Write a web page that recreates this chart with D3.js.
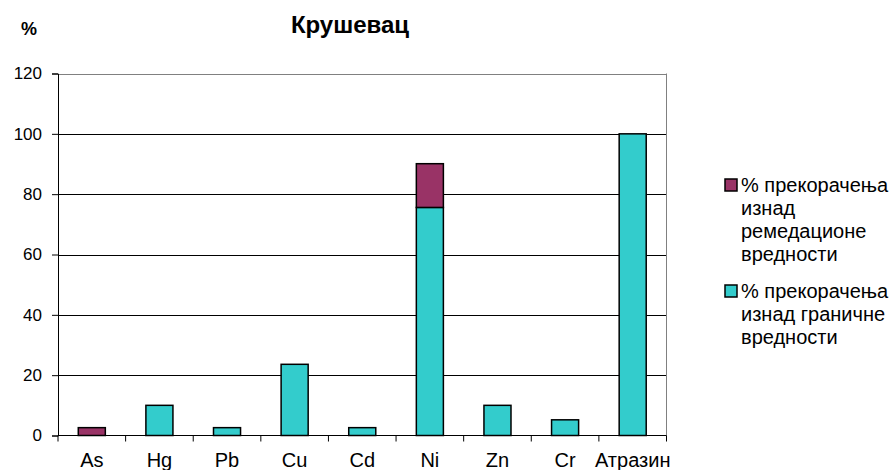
<!DOCTYPE html>
<html>
<head>
<meta charset="utf-8">
<script src="https://cdn.jsdelivr.net/npm/d3@7"></script>
<style>
  body { margin: 0; background: #fff; }
  svg { display: block; font-family: "Liberation Sans", Arial, sans-serif; }
</style>
</head>
<body>
<div id="chart"></div>
<script>
// подаци
const categories = ["As", "Hg", "Pb", "Cu", "Cd", "Ni", "Zn", "Cr", "Атразин"];
const granicne = [0, 10, 2.6, 23.6, 2.6, 75.6, 10, 5.2, 100];     // изнад граничне
const remedacione = [2.6, 0, 0, 0, 0, 14.5, 0, 0, 0];           // изнад ремедационе
const yTicks = [0, 20, 40, 60, 80, 100, 120];
const seriesNames = [
  ["% прекорачења", "изнад", "ремедационе", "вредности"],
  ["% прекорачења", "изнад граничне", "вредности"]
];
const colors = ["#993366", "#33CCCC"];

const W = 891, H = 470;
const plot = { left: 58, right: 666.5, top: 73.5, bottom: 435.5 };

const svg = d3.select("#chart").append("svg")
  .attr("width", W).attr("height", H);

const x = d3.scaleBand().domain(categories)
  .range([plot.left, plot.right]).paddingInner(0.6).paddingOuter(0.3);
const xTick = d3.scaleBand().domain(categories).range([plot.left, plot.right]);
const y = d3.scaleLinear().domain([0, 120]).range([plot.bottom, plot.top]);

// хоризонталне линије мреже
svg.append("g").selectAll("line")
  .data(yTicks.filter(d => d > 0))
  .enter().append("line")
  .attr("x1", plot.left).attr("x2", plot.right)
  .attr("y1", d => Math.round(y(d)) + 0.5).attr("y2", d => Math.round(y(d)) + 0.5)
  .attr("stroke", d => d === 120 ? "#808080" : "#000")
  .attr("stroke-width", 1);

// десна ивица
svg.append("line")
  .attr("x1", plot.right).attr("x2", plot.right)
  .attr("y1", plot.top).attr("y2", plot.bottom)
  .attr("stroke", "#808080");

// стубови
const stacked = categories.map((c, i) => ({ c, g: granicne[i], r: remedacione[i] }));
const bars = svg.append("g");
stacked.forEach(d => {
  if (d.g > 0) {
    bars.append("rect")
      .attr("x", x(d.c)).attr("width", x.bandwidth())
      .attr("y", y(d.g)).attr("height", y(0) - y(d.g))
      .attr("fill", colors[1]).attr("stroke", "#000").attr("stroke-width", 1.5);
  }
  if (d.r > 0) {
    bars.append("rect")
      .attr("x", x(d.c)).attr("width", x.bandwidth())
      .attr("y", y(d.g + d.r)).attr("height", y(d.g) - y(d.g + d.r))
      .attr("fill", colors[0]).attr("stroke", "#000").attr("stroke-width", 1.5);
  }
});

// y оса
const yAxis = d3.axisLeft(y).tickValues(yTicks).tickSize(6).tickPadding(10);
const gy = svg.append("g").attr("transform", `translate(${plot.left},0)`).call(yAxis);
gy.select(".domain").attr("stroke", "#000");
gy.selectAll("text").attr("font-size", 17).attr("fill", "#000")
  .attr("font-family", "Liberation Sans, Arial, sans-serif");

// x оса
const gx = svg.append("g").attr("transform", `translate(0,${plot.bottom})`);
gx.append("line").attr("x1", plot.left).attr("x2", plot.right)
  .attr("y1", 0).attr("y2", 0).attr("stroke", "#000");
gx.selectAll(".tk")
  .data(categories.concat(["end"]))
  .enter().append("line")
  .attr("x1", (d, i) => i < categories.length ? xTick(d) : plot.right)
  .attr("x2", (d, i) => i < categories.length ? xTick(d) : plot.right)
  .attr("y1", 0).attr("y2", 6).attr("stroke", "#000");
gx.selectAll("text")
  .data(categories)
  .enter().append("text")
  .attr("x", d => xTick(d) + xTick.bandwidth() / 2)
  .attr("y", 31)
  .attr("text-anchor", "middle")
  .attr("font-size", 20)
  .text(d => d);

// наслов
svg.append("text").attr("x", 350).attr("y", 33)
  .attr("text-anchor", "middle").attr("font-size", 24).attr("font-weight", "bold")
  .text("Крушевац");
svg.append("text").attr("x", 29).attr("y", 35)
  .attr("text-anchor", "middle").attr("font-size", 18).attr("font-weight", "bold")
  .text("%");

// легенда
const legend = svg.append("g");
const legendY = [179, 285];
seriesNames.forEach((lines, i) => {
  legend.append("rect")
    .attr("x", 725).attr("y", legendY[i]).attr("width", 12).attr("height", 12)
    .attr("fill", colors[i]).attr("stroke", "#000").attr("stroke-width", 1.5);
  const t = legend.append("text").attr("font-size", 20);
  lines.forEach((l, k) => {
    t.append("tspan").attr("x", 741).attr("y", legendY[i] + 13 + k * 23).text(l);
  });
});
</script>
</body>
</html>
